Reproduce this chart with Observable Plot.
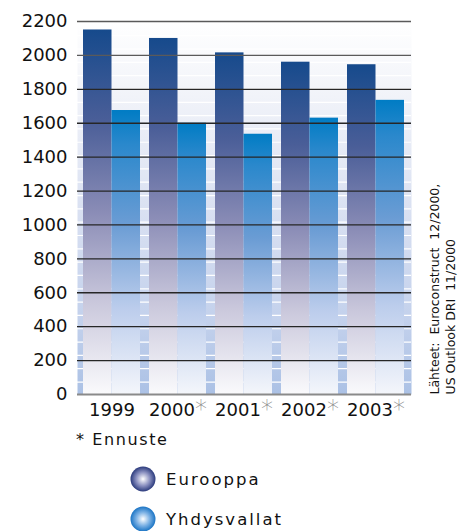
<!DOCTYPE html>
<html><head><meta charset="utf-8">
<script src="https://cdn.jsdelivr.net/npm/d3@7"></script>
<script src="https://cdn.jsdelivr.net/npm/@observablehq/plot@0.6"></script>
<style>
body{margin:0;background:#fff;}
#wrap{width:466px;height:531px;position:relative;overflow:hidden;font-family:"DejaVu Sans",sans-serif;color:#111;}
#chart{position:absolute;left:0;top:0;}
.note{position:absolute;font-size:16px;letter-spacing:1.6px;white-space:pre;line-height:1;}
.leg{position:absolute;display:flex;align-items:center;}
.leg svg{display:block}
.leg span{font-size:16.5px;letter-spacing:2px;margin-left:10px;}
</style></head><body>
<div id="wrap"><div id="chart"></div></div>
<script>
const years = ["1999", "2000", "2001", "2002", "2003"];
const forecastYears = ["2000", "2001", "2002", "2003"];
const europe = [2150, 2100, 2015, 1960, 1945];
const usa = [1675, 1600, 1535, 1630, 1735];
const yTicks = [0, 200, 400, 600, 800, 1000, 1200, 1400, 1600, 1800, 2000, 2200];
const seriesNames = ["Eurooppa", "Yhdysvallat"];
const sourceLines = ["Lähteet:  Euroconstruct  12/2000,", "US Outlook DRI  11/2000"];
const footnote = "* Ennuste";

const rows = years.map((year, i) => ({year, europe: europe[i], usa: usa[i]}));
const minor = d3.range(1, 28).map(k => k * 2200 / 28 - 5);

function build(bw) {
  return Plot.plot({
    width: 466, height: 425,
    marginLeft: 77, marginRight: 55, marginTop: 21, marginBottom: 31,
    style: {fontFamily: "DejaVu Sans, sans-serif", fontSize: "18px", color: "#111", background: "transparent", overflow: "visible"},
    x: {domain: years, paddingInner: 0.135, paddingOuter: 0.07, label: null, tickSize: 0, tickPadding: 9},
    y: {domain: [0, 2200], ticks: yTicks, tickFormat: d => String(d), label: null, tickSize: 0, tickPadding: 10},
    marks: [
      Plot.frame({fill: "url(#bgGrad)", stroke: null}),
      Plot.ruleY(minor, {stroke: "white", strokeWidth: 1.2}),
      Plot.barY(rows, {x: "year", y: "europe", fill: "url(#euGrad)", insetRight: bw / 2}),
      Plot.barY(rows, {x: "year", y: "usa", fill: "url(#usGrad)", insetLeft: bw / 2}),
      Plot.ruleY(yTicks.filter(d => d > 0), {stroke: d => d >= 2000 ? "#5a5a5a" : "#262626", strokeWidth: 1.3}),
      Plot.ruleY([0], {stroke: "#8a8a8a", strokeWidth: 2}),
      Plot.text([sourceLines.join("\n")], {text: d => d, frameAnchor: "bottom-right", rotate: -90, textAnchor: "start", dx: 43, fontSize: 12.5, lineHeight: 1.25, fill: "#111"})
    ]
  });
}

const first = build(0);
const bw = first.scale("x").bandwidth;
const plot = build(bw);
const svg = d3.select(plot);
const defs = svg.insert("defs", ":first-child");
function lin(id, stops) {
  const g = defs.append("linearGradient").attr("id", id).attr("x1", 0).attr("y1", 0).attr("x2", 0).attr("y2", 1);
  stops.forEach(([o, c]) => g.append("stop").attr("offset", o).attr("stop-color", c));
}
lin("bgGrad", [[0, "#ffffff"], [0.2, "#f1f3f9"], [0.5, "#dae1f2"], [0.8, "#c3d1ec"], [1, "#abc1e5"]]);
lin("euGrad", [[0, "#164a8c"], [0.25, "#4a5e98"], [0.5, "#8a8cb6"], [0.75, "#cac8dc"], [1, "#fafafc"]]);
lin("usGrad", [[0, "#007cc4"], [0.12, "#2a88cc"], [0.4, "#6a9cd4"], [0.7, "#bccdec"], [1, "#f4f6fb"]]);

svg.selectAll('text').filter(function(){return this.textContent.includes("Lähteet");}).style("white-space", "pre");
svg.selectAll('tspan').style("white-space", "pre");

svg.selectAll('[aria-label="x-axis tick label"] text').each(function(){
  const t = this.textContent;
  if (forecastYears.includes(t)) {
    d3.select(this).append("tspan").text("*").attr("fill", "#8a8a8a").attr("font-size", "24px").attr("font-weight", 200).attr("dy", "0.05em");
  }
});

document.getElementById("chart").appendChild(plot);

const wrap = d3.select("#wrap");
wrap.append("div").attr("class", "note").style("left", "76px").style("top", "432px").text(footnote);

const legColors = [["#2a3a7c", "#8a90c0"], ["#1a74c4", "#7ab0e4"]];
seriesNames.forEach((name, i) => {
  const d = wrap.append("div").attr("class", "leg").style("left", "130px").style("top", (466 + i * 40) + "px");
  const s = d.append("svg").attr("width", 26).attr("height", 26);
  const rg = s.append("defs").append("radialGradient").attr("id", "lg" + i).attr("cx", "50%").attr("cy", "50%").attr("r", "50%");
  rg.append("stop").attr("offset", 0).attr("stop-color", "#ffffff");
  rg.append("stop").attr("offset", 0.55).attr("stop-color", legColors[i][1]);
  rg.append("stop").attr("offset", 1).attr("stop-color", legColors[i][0]);
  s.append("circle").attr("cx", 13).attr("cy", 13).attr("r", 12.5).attr("fill", `url(#lg${i})`);
  d.append("span").text(name);
});
</script>
</body></html>
